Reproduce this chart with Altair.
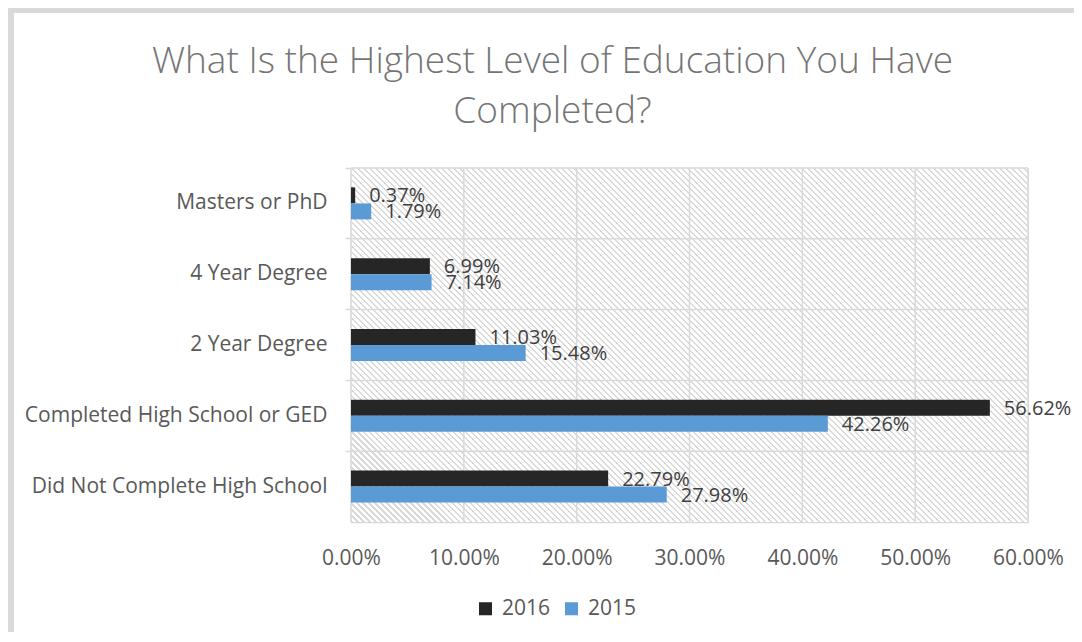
import altair as alt
import pandas as pd

# ---- data ----
categories = [
    "Masters or PhD",
    "4 Year Degree",
    "2 Year Degree",
    "Completed High School or GED",
    "Did Not Complete High School",
]
years = ["2016", "2015"]
values_2016 = [0.0037, 0.0699, 0.1103, 0.5662, 0.2279]
values_2015 = [0.0179, 0.0714, 0.1548, 0.4226, 0.2798]
x_ticks = [0.0, 0.1, 0.2, 0.3, 0.4, 0.5, 0.6]
colors = ["#262626", "#5B9BD5"]

rows = []
for c, a, b in zip(categories, values_2016, values_2015):
    rows.append({"category": c, "year": "2016", "value": a})
    rows.append({"category": c, "year": "2015", "value": b})
df = pd.DataFrame(rows)
cat_df = pd.DataFrame({"category": categories})
tick_df = pd.DataFrame({"t": x_ticks})

W, H = 677, 354
GRID = "#D9D9D9"
FONT = "Open Sans"
STEP = H / len(categories)
BAR = 16

# diagonal hatch as a hard-stop linear gradient (decoration only)
period = 6.0
n_stripes = int((W + H) / period) + 1
stops = []
for i in range(n_stripes):
    o0 = i / n_stripes
    o1 = (i + 0.35) / n_stripes
    o2 = (i + 1) / n_stripes
    stops += [
        {"offset": o0, "color": "#DADADA"},
        {"offset": o1, "color": "#DADADA"},
        {"offset": o1, "color": "#FFFFFF"},
        {"offset": o2, "color": "#FFFFFF"},
    ]
s = (W + H) / (W * W + H * H)
hatch = {
    "gradient": "linear",
    "x1": 0, "y1": 1,
    "x2": s * W, "y2": 1 - s * H,
    "stops": stops,
}

x_scale = alt.Scale(domain=[0, 0.6], nice=False)
y_enc = alt.Y(
    "category:N",
    sort=categories,
    scale=alt.Scale(paddingInner=0, paddingOuter=0),
    axis=alt.Axis(
        title=None,
        bandPosition=0,
        ticks=True,
        tickSize=6,
        tickColor=GRID,
        tickWidth=1.5,
        domainColor=GRID,
        domainWidth=1.5,
        labelFont=FONT,
        labelFontSize=21,
        labelColor="#595959",
        labelPadding=18,
        labelLimit=400,
        grid=False,
    ),
)
yoff = alt.YOffset(
    "year:N",
    sort=years,
    scale=alt.Scale(paddingInner=0, paddingOuter=0,
                    range=[STEP / 2 - BAR, STEP / 2 + BAR]),
)

background = (
    alt.Chart(pd.DataFrame({"k": [0]}))
    .mark_rect(fill=hatch, strokeWidth=0)
    .encode(x=alt.datum(0, scale=x_scale), x2=alt.datum(0.6))
)

vgrid = (
    alt.Chart(tick_df)
    .mark_rule(color=GRID, strokeWidth=1.5)
    .encode(x=alt.X("t:Q", scale=x_scale))
)

hgrid = (
    alt.Chart(cat_df)
    .mark_rule(color=GRID, strokeWidth=1.5)
    .encode(y=alt.Y("category:N", sort=categories, bandPosition=0))
)

bars = (
    alt.Chart(df)
    .mark_bar()
    .encode(
        x=alt.X(
            "value:Q",
            scale=x_scale,
            axis=alt.Axis(
                title=None,
                values=x_ticks,
                format=".2%",
                ticks=False,
                grid=False,
                labelFlush=False,
                domainColor=GRID,
                domainWidth=1.5,
                labelFont=FONT,
                labelFontSize=21,
                labelColor="#595959",
                labelPadding=25,
            ),
        ),
        y=y_enc,
        yOffset=yoff,
        color=alt.Color(
            "year:N",
            sort=years,
            scale=alt.Scale(domain=years, range=colors),
            legend=alt.Legend(
                title=None,
                orient="none",
                direction="horizontal",
                legendX=124,
                legendY=430,
                symbolType="square",
                symbolSize=170,
                symbolStrokeWidth=0,
                labelFont=FONT,
                labelFontSize=21,
                labelColor="#595959",
                columnPadding=10,
                labelOffset=6,
            ),
        ),
    )
)

labels = (
    alt.Chart(df)
    .mark_text(align="left", baseline="middle", dx=14, dy=1,
               font=FONT, fontSize=20, color="#404040")
    .encode(
        x=alt.X("value:Q", scale=x_scale),
        y=alt.Y("category:N", sort=categories),
        yOffset=yoff,
        text=alt.Text("value:Q", format=".2%"),
    )
)

frame = (
    alt.Chart(pd.DataFrame({"k": [0]}))
    .mark_rect(fill="transparent", stroke="#D9D9D9", strokeWidth=7)
    .encode(
        x=alt.value(-340.5), x2=alt.value(W + 400),
        y=alt.value(-158.5), y2=alt.value(H + 400),
    )
)

chart = (
    alt.layer(background, vgrid, hgrid, bars, labels, frame)
    .properties(
        width=W,
        height=H,
        autosize=alt.AutoSizeParams(type="none"),
        padding={"left": 343, "top": 160, "right": 46, "bottom": 110},
        title=alt.TitleParams(
            text=["What Is the Highest Level of Education You Have", "Completed?"],
            font=FONT,
            fontSize=37,
            fontWeight=300,
            color="#757575",
            lineHeight=50,
            anchor="middle",
            frame="group",
            dx=-137,
            dy=165,
            offset=40,
        ),
    )
    .configure_view(stroke=GRID, strokeWidth=1.5)
    .configure(background="white")
)

chart.save("out.html", embed_options={"renderer": "svg", "actions": False})
